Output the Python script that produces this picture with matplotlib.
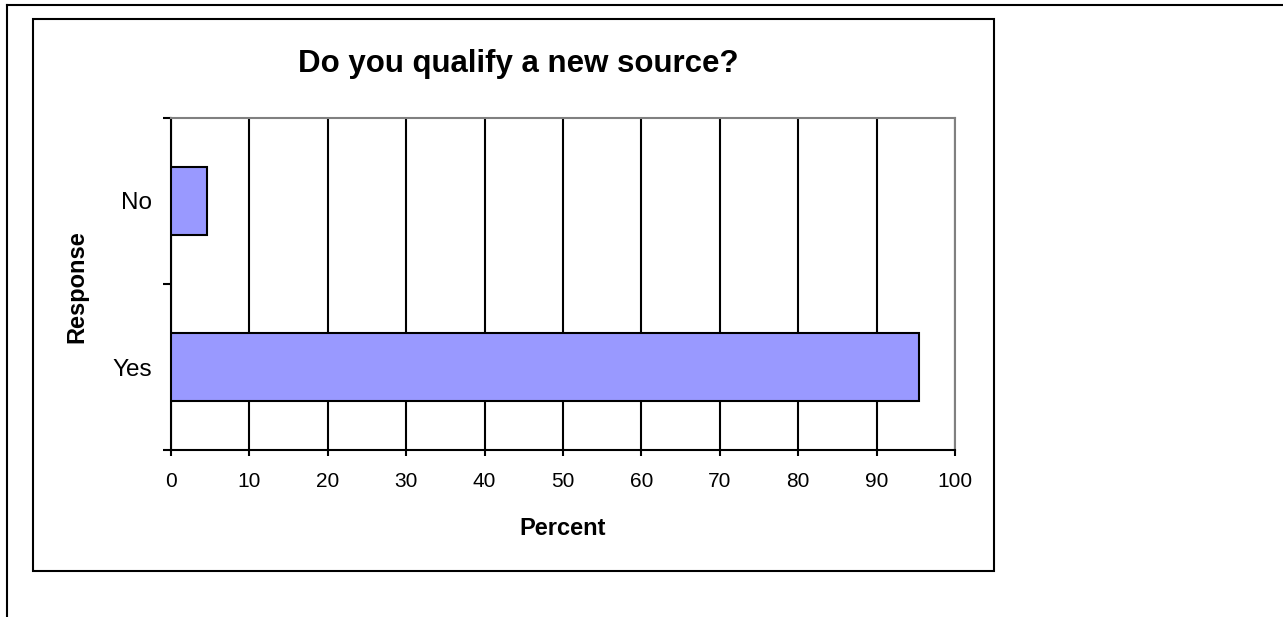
import matplotlib
matplotlib.use("Agg")
import matplotlib.pyplot as plt
from matplotlib.patches import Rectangle
from matplotlib.lines import Line2D
from matplotlib.ticker import FixedLocator

plt.rcParams['font.family'] = ['Liberation Sans', 'DejaVu Sans']

categories = ["Yes", "No"]
percent = [95.4, 4.6]
x_ticks = [0, 10, 20, 30, 40, 50, 60, 70, 80, 90, 100]

W, H = 1283, 617
fig = plt.figure(figsize=(W / 100, H / 100), dpi=100)
fig.patch.set_facecolor("white")

def fx(px):
    return px / W

def fy(py):
    return 1 - py / H

# page frame lines
fig.add_artist(Line2D([fx(7), fx(W)], [fy(5), fy(5)], color="black", lw=1.5,
                      transform=fig.transFigure))
fig.add_artist(Line2D([fx(7), fx(7)], [fy(5), fy(H)], color="black", lw=1.5,
                      transform=fig.transFigure))
# chart border
fig.add_artist(Rectangle((fx(33), fy(571)), fx(994) - fx(33), fy(19) - fy(571),
                         fill=False, edgecolor="black", lw=1.5,
                         transform=fig.transFigure))

left, right, top, bottom = 171, 955, 118, 450
ax = fig.add_axes([fx(left), fy(bottom), fx(right) - fx(left), fy(top) - fy(bottom)])

ypos = list(range(len(categories)))
ax.barh(ypos, percent, height=0.405, color="#9999FF", edgecolor="black",
        linewidth=1.5, zorder=3)

ax.set_xlim(0, 100)
ax.set_ylim(-0.5, len(categories) - 0.5)
ax.set_xticks(x_ticks)
ax.set_xticklabels([str(t) for t in x_ticks], fontsize=15)
ax.set_yticks(ypos)
ax.set_yticklabels(categories, fontsize=17.5)
ax.yaxis.set_minor_locator(FixedLocator([-0.5, 0.5, 1.5]))
ax.tick_params(axis="y", which="major", length=0, pad=14)
ax.tick_params(axis="y", which="minor", length=6, width=1.5, direction="out")
ax.tick_params(axis="x", which="major", length=4.5, width=1.5, direction="out", pad=11)

ax.grid(axis="x", color="black", lw=1.5, zorder=1)
ax.set_axisbelow(True)

for s in ("left", "bottom"):
    ax.spines[s].set_color("black")
    ax.spines[s].set_linewidth(1.5)
for s in ("top", "right"):
    ax.spines[s].set_color("#808080")
    ax.spines[s].set_linewidth(1.5)

fig.text(fx(518), fy(72), "Do you qualify a new source?", fontsize=22.5,
         fontweight="bold", ha="center", va="baseline")
fig.text(fx(563), fy(535), "Percent", fontsize=17, fontweight="bold",
         ha="center", va="baseline")
fig.text(fx(83), fy(287), "Response", fontsize=17, fontweight="bold",
         ha="center", va="baseline", rotation=90, rotation_mode="anchor")

fig.savefig("out.png", dpi=100, facecolor="white")
